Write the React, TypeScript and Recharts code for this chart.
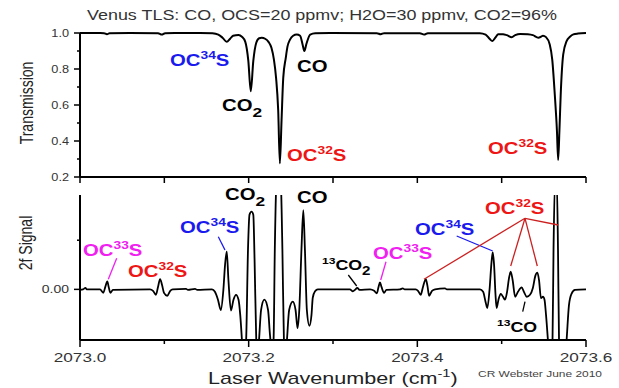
import React from 'react'
import { LineChart, Line, XAxis, YAxis } from 'recharts'

// top panel: transmission spectrum
const transWn = [
  2073.0, 2073.024, 2073.0285, 2073.032, 2073.035, 2073.059, 2073.0925, 2073.097, 2073.101, 2073.142,
  2073.157, 2073.164, 2073.169, 2073.174, 2073.178, 2073.1815, 2073.188, 2073.192, 2073.196, 2073.1996,
  2073.2025, 2073.2055, 2073.209, 2073.2124, 2073.2155, 2073.2195, 2073.2235, 2073.227, 2073.23, 2073.2325,
  2073.235, 2073.237, 2073.239, 2073.241, 2073.244, 2073.246, 2073.249, 2073.2527, 2073.257, 2073.261,
  2073.264, 2073.266, 2073.2685, 2073.273, 2073.279, 2073.2965, 2073.352, 2073.3566, 2073.3605, 2073.403,
  2073.408, 2073.4125, 2073.474, 2073.481, 2073.4856, 2073.489, 2073.4925, 2073.496, 2073.5016, 2073.506,
  2073.512, 2073.516, 2073.522, 2073.531, 2073.537, 2073.5435, 2073.5466, 2073.549, 2073.5526, 2073.557,
  2073.56, 2073.563, 2073.5655, 2073.567, 2073.5685, 2073.57, 2073.573, 2073.577, 2073.581, 2073.585,
  2073.5905, 2073.6,
]
const transVal = [
  1.0, 1.0, 0.999, 0.993, 0.999, 1.0, 0.999, 0.991, 0.999, 1.0,
  0.998, 0.991, 0.974, 0.951, 0.968, 0.985, 0.989, 0.979, 0.951, 0.845,
  0.676, 0.845, 0.946, 0.971, 0.974, 0.968, 0.951, 0.918, 0.851, 0.751,
  0.572, 0.276, 0.516, 0.751, 0.862, 0.924, 0.963, 0.985, 0.992, 0.985,
  0.935, 0.9, 0.94, 0.991, 0.998, 1.0, 0.999, 0.993, 0.999, 0.999,
  0.991, 0.999, 0.999, 0.991, 0.968, 0.955, 0.974, 0.993, 0.993, 0.988,
  0.977, 0.988, 0.995, 0.993, 0.988, 0.974, 0.979, 0.985, 0.977, 0.936,
  0.851, 0.657, 0.46, 0.295, 0.46, 0.657, 0.881, 0.955, 0.979, 0.992,
  0.997, 1.0,
]

// bottom panel: 2f signal
const signalWn = [
  2073.0, 2073.0036, 2073.0065, 2073.008, 2073.0237, 2073.0276, 2073.03, 2073.0324, 2073.034, 2073.036,
  2073.039, 2073.083, 2073.0866, 2073.09, 2073.0925, 2073.095, 2073.0973, 2073.0996, 2073.1035, 2073.107,
  2073.11, 2073.1257, 2073.128, 2073.1364, 2073.139, 2073.1565, 2073.16, 2073.1636, 2073.167, 2073.17,
  2073.172, 2073.174, 2073.176, 2073.179, 2073.182, 2073.185, 2073.188, 2073.19, 2073.192, 2073.194,
  2073.197, 2073.1992, 2073.201, 2073.2034, 2073.2055, 2073.207, 2073.209, 2073.2105, 2073.2123, 2073.2147,
  2073.2186, 2073.223, 2073.2253, 2073.2273, 2073.2295, 2073.231, 2073.233, 2073.2354, 2073.238, 2073.24,
  2073.2418, 2073.2436, 2073.2454, 2073.248, 2073.2523, 2073.2556, 2073.258, 2073.26, 2073.2626, 2073.2648,
  2073.2667, 2073.269, 2073.272, 2073.2745, 2073.276, 2073.2787, 2073.282, 2073.32, 2073.3236, 2073.326,
  2073.3288, 2073.3314, 2073.344, 2073.3488, 2073.352, 2073.354, 2073.3557, 2073.3575, 2073.3605, 2073.3634,
  2073.3795, 2073.3827, 2073.385, 2073.398, 2073.4008, 2073.404, 2073.4067, 2073.41, 2073.412, 2073.414,
  2073.4174, 2073.421, 2073.4328, 2073.435, 2073.4743, 2073.478, 2073.481, 2073.483, 2073.4856, 2073.488,
  2073.4894, 2073.491, 2073.4927, 2073.494, 2073.4962, 2073.4989, 2073.5016, 2073.504, 2073.5064, 2073.5087,
  2073.5107, 2073.513, 2073.516, 2073.5193, 2073.5237, 2073.5264, 2073.5297, 2073.5336, 2073.537, 2073.54,
  2073.5423, 2073.5443, 2073.5466, 2073.549, 2073.5508, 2073.5526, 2073.5553, 2073.558, 2073.5603, 2073.5615,
  2073.5633, 2073.5653, 2073.5668, 2073.568, 2073.5698, 2073.5733, 2073.577, 2073.5798, 2073.5828, 2073.5869,
  2073.6,
]
const signalVal = [
  -0.01, 0, 0.03, 0, 0, -0.07, 0.05, 0.16, 0.05, -0.07,
  -0.01, 0, -0.03, -0.11, 0.05, 0.21, 0.09, -0.07, -0.13, -0.03,
  0, 0.01, -0.01, 0.01, -0.01, 0, -0.05, -0.21, -0.42, -0.01,
  0.5, 0.77, 0.19, -0.43, -0.21, -0.11, -0.21, -0.52, -1.03, -1.64,
  -1.03, 0.81, 1.52, 1.58, 1.52, 0.6, -1.03, -1.44, -1.03, -0.42,
  -0.21, -0.42, -0.93, -1.23, -1.03, 0.81, 2.23, 2.44, 2.23, 0.81,
  -1.03, -1.44, -1.03, -0.42, -0.25, -0.42, -0.79, -0.42, 0.81, 1.61,
  0.81, -0.42, -0.74, -0.52, -0.17, -0.04, 0, 0, -0.04, -0.01,
  0.03, -0.01, 0, -0.03, -0.08, 0.05, 0.14, 0.05, -0.07, -0.01,
  0, 0.02, 0, 0, -0.03, -0.11, 0.05, 0.21, 0.07, -0.13,
  -0.03, 0, 0.02, 0, 0, -0.05, -0.26, -0.38, -0.01, 0.56,
  0.75, 0.5, -0.11, -0.38, -0.21, -0.09, -0.15, -0.21, -0.05, 0.23,
  0.36, 0.19, -0.15, -0.05, 0.04, -0.05, -0.15, -0.11, 0.03, 0.28,
  0.34, 0.19, -0.18, -0.15, -0.21, -0.52, -1.13, -1.64, -1.03, 0.81,
  2.23, 2.23, 0.81, -1.03, -1.64, -1.85, -1.03, -0.32, -0.09, -0.01,
  0,
]

const xTicks = [2073.0, 2073.1, 2073.2, 2073.3, 2073.4, 2073.5, 2073.6]
const transTicks = [0.2, 0.3, 0.4, 0.5, 0.6, 0.7, 0.8, 0.9, 1.0]
const signalTicks = [0, 1]

const transData = transWn.map((wn, i) => ({ wn, t: transVal[i] }))
const signalData = signalWn.map((wn, i) => ({ wn, s: signalVal[i] }))

const FONT = 'Arial, "Liberation Sans", Helvetica, sans-serif'
const SX = 1.27 // the original image is stretched sideways
const TICK_TEXT = '#333'
const BLUE = '#1a1aee'
const RED = '#ee1515'
const MAGENTA = '#f020f0'
const LINK_RED = '#cc2020'

const isMajorX = (v: number) => Math.round(v * 10) % 2 === 0

function makeLeftTick(isMajor: (v: number) => boolean, label: (v: number) => string, fontSize: number) {
  return (p: any) => {
    const v = p.payload.value
    const major = isMajor(v)
    const len = major ? 6 : 3
    const txt = major ? label(v) : ''
    return (
      <g>
        <line x1={p.x} y1={p.y} x2={p.x - len} y2={p.y} stroke="#000" strokeWidth={1.5} />
        {txt ? (
          <text
            transform={`translate(${p.x - 11},${p.y + fontSize * 0.35}) scale(${SX},1)`}
            textAnchor="end"
            fontSize={fontSize}
            fontFamily={FONT}
            fill={TICK_TEXT}
          >
            {txt}
          </text>
        ) : null}
      </g>
    )
  }
}

const rightTick = (p: any) => (
  <line x1={p.x} y1={p.y} x2={p.x - 4} y2={p.y} stroke="#000" strokeWidth={1.5} />
)

const topXTick = (p: any) => (
  <line x1={p.x} y1={p.y} x2={p.x} y2={p.y + 6} stroke="#000" strokeWidth={1.5} />
)

const bottomXTick = (p: any) => {
  const v = p.payload.value
  const major = isMajorX(v)
  return (
    <g>
      <line x1={p.x} y1={p.y} x2={p.x} y2={p.y + (major ? 7 : 4)} stroke="#000" strokeWidth={1.5} />
      {major ? (
        <text
          transform={`translate(${p.x},${p.y + 22}) scale(${SX},1)`}
          textAnchor="middle"
          fontSize={13.5}
          fontFamily={FONT}
          fill={TICK_TEXT}
        >
          {v.toFixed(1)}
        </text>
      ) : null}
    </g>
  )
}

type Part = { t: string; k?: 'sup' | 'sub' }

function Ann({ x, y, parts, color, size = 16, weight = 'bold' }: { x: number; y: number; parts: Part[]; color: string; size?: number; weight?: string }) {
  let prev = 0
  return (
    <text transform={`translate(${x},${y}) scale(${SX},1)`} fill={color} fontSize={size} fontWeight={weight} fontFamily={FONT}>
      {parts.map((p, i) => {
        const shift = p.k === 'sup' ? -0.42 * size : p.k === 'sub' ? 0.38 * size : 0
        const dy = shift - prev
        prev = shift
        const fs = p.k === 'sup' ? size * 0.68 : p.k === 'sub' ? size * 0.85 : size
        return (
          <tspan key={i} dy={dy} fontSize={fs}>
            {p.t}
          </tspan>
        )
      })}
    </text>
  )
}

const oc = (n: string): Part[] => [{ t: 'OC' }, { t: n, k: 'sup' }, { t: 'S' }]
const CO2: Part[] = [{ t: 'CO' }, { t: '2', k: 'sub' }]
const CO: Part[] = [{ t: 'CO' }]

function Link({ x1, y1, x2, y2, color, w = 1.3 }: { x1: number; y1: number; x2: number; y2: number; color: string; w?: number }) {
  return <line x1={x1} y1={y1} x2={x2} y2={y2} stroke={color} strokeWidth={w} />
}

export default function App() {
  const axisLine = { stroke: '#000', strokeWidth: 2 }
  return (
    <div style={{ position: 'absolute', left: 0, top: 0, width: 619, height: 388, background: '#fff', fontFamily: FONT }}>
      {/* Transmission */}
      <div style={{ position: 'absolute', left: 0, top: 0 }}>
        <LineChart width={619} height={185} data={transData} margin={{ top: 33, right: 33, left: 0, bottom: 0 }}>
          <XAxis
            dataKey="wn"
            type="number"
            domain={[2073, 2073.6]}
            ticks={xTicks}
            interval={0}
            height={8}
            tickSize={0}
            tickMargin={0}
            tickLine={false}
            tick={topXTick}
            axisLine={axisLine}
          />
          <YAxis
            yAxisId="l"
            type="number"
            domain={[0.2, 1.0]}
            ticks={transTicks}
            interval={0}
            width={80}
            tickSize={0}
            tickMargin={0}
            tickLine={false}
            tick={makeLeftTick((v) => Math.round(v * 10) % 2 === 0, (v) => v.toFixed(1), 10)}
            axisLine={axisLine}
          />
          <YAxis
            yAxisId="r"
            orientation="right"
            mirror
            type="number"
            domain={[0.2, 1.0]}
            ticks={transTicks}
            interval={0}
            width={0}
            tickSize={0}
            tickMargin={0}
            tickLine={false}
            tick={rightTick}
            axisLine={axisLine}
          />
          <Line yAxisId="l" type="monotone" dataKey="t" stroke="#000" strokeWidth={2} dot={false} isAnimationActive={false} />
        </LineChart>
      </div>

      {/* 2f signal */}
      <div style={{ position: 'absolute', left: 0, top: 185 }}>
        <LineChart width={619} height={203} data={signalData} margin={{ top: 10, right: 33, left: 0, bottom: 0 }}>
          <XAxis
            dataKey="wn"
            type="number"
            domain={[2073, 2073.6]}
            ticks={xTicks}
            interval={0}
            height={48}
            tickSize={0}
            tickMargin={0}
            tickLine={false}
            tick={bottomXTick}
            axisLine={axisLine}
          />
          <YAxis
            yAxisId="l"
            type="number"
            domain={[-1.03, 1.92]}
            allowDataOverflow
            ticks={signalTicks}
            interval={0}
            width={80}
            tickSize={0}
            tickMargin={0}
            tickLine={false}
            tick={makeLeftTick((v) => v === 0, () => '0.00', 11)}
            axisLine={axisLine}
          />
          <YAxis
            yAxisId="r"
            orientation="right"
            mirror
            type="number"
            domain={[-1.03, 1.92]}
            allowDataOverflow
            ticks={signalTicks}
            interval={0}
            width={0}
            tickSize={0}
            tickMargin={0}
            tickLine={false}
            tick={rightTick}
            axisLine={axisLine}
          />
          <Line yAxisId="l" type="monotone" dataKey="s" stroke="#000" strokeWidth={1.8} dot={false} isAnimationActive={false} />
        </LineChart>
      </div>

      {/* titles and annotations */}
      <svg width={619} height={388} style={{ position: 'absolute', left: 0, top: 0, pointerEvents: 'none' }}>
        <text x={87} y={20} textLength={470} lengthAdjust="spacingAndGlyphs" fontSize={14} fontFamily={FONT} fill="#333">
          Venus TLS: CO, OCS=20 ppmv; H2O=30 ppmv, CO2=96%
        </text>
        <text transform="translate(33,103) rotate(-90) scale(1,1.27)" textAnchor="middle" fontSize={14} fontFamily={FONT} fill="#222">
          Transmission
        </text>
        <text transform="translate(32,243) rotate(-90) scale(1,1.27)" textAnchor="middle" fontSize={14} fontFamily={FONT} fill="#222">
          2f Signal
        </text>
        <Ann x={208} y={384} size={17} weight="normal" color="#222" parts={[{ t: 'Laser Wavenumber (cm' }, { t: '-1', k: 'sup' }, { t: ')' }]} />
        <text x={478} y={377} textLength={124} lengthAdjust="spacingAndGlyphs" fontSize={8.5} fontFamily={FONT} fill="#444">
          CR Webster June 2010
        </text>

        {/* top panel labels */}
        <Ann x={170} y={66} color={BLUE} parts={oc('34')} />
        <Ann x={222} y={111} color="#000" parts={CO2} />
        <Ann x={297} y={72} color="#000" parts={CO} />
        <Ann x={287} y={161} color={RED} parts={oc('32')} />
        <Ann x={488} y={154} color={RED} parts={oc('32')} />

        {/* bottom panel labels */}
        <Ann x={225} y={200} color="#000" parts={CO2} />
        <Ann x={297} y={203} color="#000" parts={CO} />
        <Ann x={180} y={233} color={BLUE} parts={oc('34')} />
        <Ann x={83} y={256} color={MAGENTA} parts={oc('33')} />
        <Ann x={128} y={277} color={RED} parts={oc('32')} />
        <Ann x={322} y={270} size={14} color="#000" parts={[{ t: '13', k: 'sup' }, { t: 'CO' }, { t: '2', k: 'sub' }]} />
        <Ann x={373} y={259} color={MAGENTA} parts={oc('33')} />
        <Ann x={415} y={235} color={BLUE} parts={oc('34')} />
        <Ann x={485} y={214} color={RED} parts={oc('32')} />
        <Ann x={497} y={332} size={14} color="#000" parts={[{ t: '13', k: 'sup' }, { t: 'CO' }]} />

        <Link x1={218.3} y1={236.7} x2={225} y2={250} color={BLUE} />
        <Link x1={116.7} y1={258.3} x2={108.3} y2={279.3} color={MAGENTA} />
        <Link x1={348.3} y1={275} x2={356.7} y2={286} color="#000" />
        <Link x1={386} y1={261.7} x2={380.7} y2={280} color={MAGENTA} />
        <Link x1={456.7} y1={236} x2={492.7} y2={251} color={BLUE} />
        <Link x1={525} y1={218.3} x2={424} y2={279.3} color={LINK_RED} />
        <Link x1={525} y1={218.3} x2={510.7} y2={266} color={LINK_RED} />
        <Link x1={525} y1={218.3} x2={537.3} y2={266} color={LINK_RED} />
        <Link x1={525} y1={218.3} x2={558.3} y2={225} color={LINK_RED} />
        <Link x1={522.7} y1={311.7} x2={525} y2={301.7} color="#000" />
      </svg>
    </div>
  )
}
